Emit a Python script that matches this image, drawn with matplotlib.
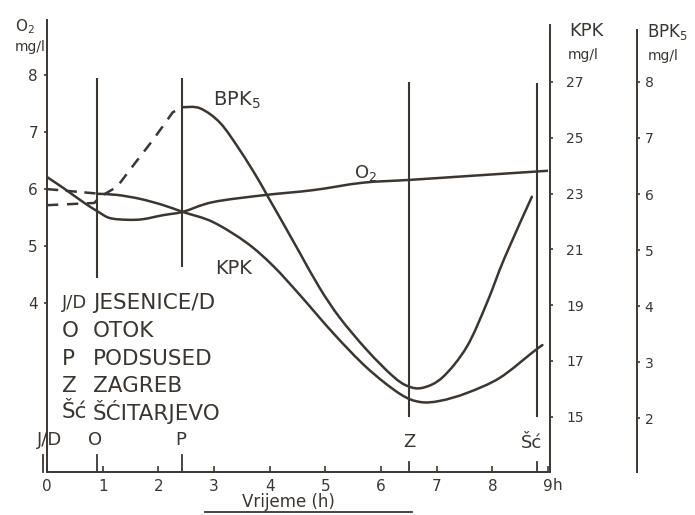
import matplotlib
matplotlib.use('Agg')
import matplotlib.pyplot as plt
from matplotlib.lines import Line2D
from matplotlib.path import Path
from matplotlib.patches import PathPatch
import matplotlib.transforms as mtransforms

# ---------------- data ----------------
hours = list(range(10))
o2_ticks = [4, 5, 6, 7, 8]
kpk_ticks = [15, 17, 19, 21, 23, 25, 27]
bpk_ticks = [2, 3, 4, 5, 6, 7, 8]

stations = ['J/D', 'O', 'P', 'Z', 'Šć']
station_t = [0.0, 0.9, 2.43, 6.5, 8.8]
legend_codes = ['J/D', 'O', 'P', 'Z', 'Šć']
legend_names = ['JESENICE/D', 'OTOK', 'PODSUSED', 'ZAGREB', 'ŠĆITARJEVO']

o2_t = [0.0, 0.29, 0.65, 0.92, 1.13, 1.44, 1.72, 2.08, 2.44, 2.98, 3.88, 4.78, 5.67, 6.52, 7.6, 9.0]
o2_v = [6.21, 6.02, 5.77, 5.60, 5.49, 5.46, 5.47, 5.54, 5.60, 5.77, 5.89, 5.98, 6.11, 6.16, 6.23, 6.32]

kpk_dash_t = [0.0, 0.9]
kpk_dash_v = [23.16, 23.0]
kpk_t = [0.92, 1.26, 1.67, 2.08, 2.44, 2.98, 3.59, 4.06, 4.54, 5.14, 5.75, 6.34, 6.70, 7.06, 7.54, 8.13, 8.73, 8.9]
kpk_v = [22.99, 22.95, 22.81, 22.59, 22.34, 21.98, 21.23, 20.41, 19.37, 18.00, 16.75, 15.82, 15.53, 15.57, 15.85, 16.39, 17.32, 17.57]

bpk_dash_t = [0.0, 0.85, 0.95, 1.26, 1.58, 1.90, 2.26, 2.44]
bpk_dash_v = [5.80, 5.84, 5.95, 6.13, 6.55, 6.96, 7.46, 7.55]
bpk_t = [2.44, 2.75, 3.11, 3.46, 3.77, 3.97, 4.24, 4.54, 4.90, 5.26, 5.75, 6.21, 6.48, 6.75, 7.11, 7.54, 7.90, 8.22, 8.71]
bpk_v = [7.55, 7.53, 7.27, 6.79, 6.30, 5.95, 5.48, 4.95, 4.32, 3.79, 3.21, 2.75, 2.57, 2.54, 2.73, 3.27, 4.05, 4.86, 5.95]

# ---------------- style ----------------
INK = '#3b3632'
plt.rcParams['font.family'] = ['DejaVu Sans']
W, H = 695, 515
fig = plt.figure(figsize=(W / 100, H / 100), dpi=100)
fig.patch.set_facecolor('white')

def fx(px):
    return px / W

def fy(py):
    return 1 - py / H

L, R, B, T = 47, 548, 472, 20
ax = fig.add_axes([fx(L), fy(B), (R - L) / W, (B - T) / H])
ax.set_xlim(0, 9)
ax.set_ylim(1.035, 8.965)
ax.patch.set_alpha(0)
for s in ['top', 'right']:
    ax.spines[s].set_visible(False)
for s in ['left', 'bottom']:
    ax.spines[s].set_color(INK)
    ax.spines[s].set_linewidth(1.4)
ax.set_xticks(hours)
ax.set_xticklabels([str(h) for h in hours])
ax.set_yticks(o2_ticks)
ax.set_yticklabels([str(v) for v in o2_ticks])
ax.tick_params(axis='x', direction='in', length=4, width=1.2, colors=INK,
               labelsize=11, pad=5)
ax.tick_params(axis='y', direction='out', length=2.5, width=1.2, colors=INK,
               labelsize=11, pad=4)

# KPK axis
axk = ax.twinx()
axk.set_ylim(13.02, 29.22)
axk.patch.set_alpha(0)
for s in ['top', 'left', 'bottom']:
    axk.spines[s].set_visible(False)
axk.spines['right'].set_position(('axes', (550 - L) / (R - L)))
axk.spines['right'].set_bounds(13.02, 29.04)
axk.spines['right'].set_color(INK)
axk.spines['right'].set_linewidth(1.4)
axk.set_yticks(kpk_ticks)
axk.set_yticklabels([str(v) for v in kpk_ticks])
axk.tick_params(axis='y', direction='out', length=2.5, width=1.2, colors=INK,
                labelsize=10, pad=9)

# BPK5 axis
axb = ax.twinx()
axb.set_ylim(1.036, 9.107)
axb.patch.set_alpha(0)
for s in ['top', 'left', 'bottom']:
    axb.spines[s].set_visible(False)
axb.spines['right'].set_position(('axes', (637 - L) / (R - L)))
axb.spines['right'].set_bounds(1.036, 8.93)
axb.spines['right'].set_color(INK)
axb.spines['right'].set_linewidth(1.4)
axb.set_yticks(bpk_ticks)
axb.set_yticklabels([str(v) for v in bpk_ticks])
axb.tick_params(axis='y', direction='out', length=2.5, width=1.2, colors=INK,
                labelsize=10, pad=3)

# ---------------- station lines ----------------
trans = mtransforms.blended_transform_factory(ax.transData, ax.transAxes)
def af(py):
    return (B - py) / (B - T)

upper_spans = {'O': (78, 278), 'P': (78, 267), 'Z': (82, 417), 'Šć': (83, 417)}
tick_tops = {'J/D': 455, 'O': 455, 'P': 455, 'Z': 462, 'Šć': 462}
for name, t in zip(stations, station_t):
    if name in upper_spans:
        top, bot = upper_spans[name]
        ax.plot([t, t], [af(bot), af(top)], transform=trans, color=INK,
                lw=1.5, solid_capstyle='butt', clip_on=False)
    tx = t - 0.07 if name == 'J/D' else t
    ax.plot([tx, tx], [0, af(tick_tops[name])], transform=trans, color=INK,
            lw=1.3, clip_on=False)

label_px = {'J/D': (50, 440), 'O': (95, 440), 'P': (181, 440), 'Z': (409, 442), 'Šć': (532, 443)}
for name in stations:
    x, y = label_px[name]
    fig.text(fx(x), fy(y), name, ha='center', va='center', fontsize=13, color=INK)

# ---------------- curves ----------------
def smooth_curve(axis, xs, ys, **kw):
    """Draw a smooth (Catmull-Rom as cubic Bezier) curve through the read points."""
    pts = list(zip(xs, ys))
    n = len(pts)
    verts = [pts[0]]
    codes = [Path.MOVETO]
    for i in range(n - 1):
        p0 = pts[i - 1] if i > 0 else pts[i]
        p1 = pts[i]
        p2 = pts[i + 1]
        p3 = pts[i + 2] if i + 2 < n else pts[i + 1]
        c1 = (p1[0] + (p2[0] - p0[0]) / 6, p1[1] + (p2[1] - p0[1]) / 6)
        c2 = (p2[0] - (p3[0] - p1[0]) / 6, p2[1] - (p3[1] - p1[1]) / 6)
        verts += [c1, c2, p2]
        codes += [Path.CURVE4] * 3
    patch = PathPatch(Path(verts, codes), fill=False, edgecolor=INK,
                      transform=axis.transData, capstyle='round',
                      joinstyle='round', **kw)
    axis.add_patch(patch)

smooth_curve(ax, o2_t, o2_v, lw=1.8)
axk.plot(kpk_dash_t, kpk_dash_v, color=INK, lw=1.8, dashes=(4.5, 3))
smooth_curve(axk, kpk_t, kpk_v, lw=1.8)
axb.plot(bpk_dash_t, bpk_dash_v, color=INK, lw=1.8, dashes=(4.5, 3.5))
smooth_curve(axb, bpk_t, bpk_v, lw=1.8)

# ---------------- texts ----------------
fig.text(fx(25), fy(27), 'O$_2$', ha='center', va='center', fontsize=11, color=INK)
fig.text(fx(30), fy(47), 'mg/l', ha='center', va='center', fontsize=10, color=INK)
fig.text(fx(586), fy(31), 'KPK', ha='center', va='center', fontsize=13, color=INK)
fig.text(fx(583), fy(55), 'mg/l', ha='center', va='center', fontsize=10, color=INK)
fig.text(fx(667), fy(32), 'BPK$_5$', ha='center', va='center', fontsize=12, color=INK)
fig.text(fx(663), fy(56), 'mg/l', ha='center', va='center', fontsize=10, color=INK)

fig.text(fx(237), fy(100), 'BPK$_5$', ha='center', va='center', fontsize=14, color=INK)
fig.text(fx(234), fy(269), 'KPK', ha='center', va='center', fontsize=14, color=INK)
fig.text(fx(366), fy(173), 'O$_2$', ha='center', va='center', fontsize=13, color=INK)

leg_y = [303, 331, 359, 386, 412]
for code, name, y in zip(legend_codes, legend_names, leg_y):
    csize = 13 if code == 'J/D' else 15.5
    fig.text(fx(62), fy(y), code, ha='left', va='center', fontsize=csize, color=INK)
    fig.text(fx(93), fy(y), name, ha='left', va='center', fontsize=15.5, color=INK)

fig.text(fx(557), fy(485), 'h', ha='center', va='center', fontsize=11, color=INK)
fig.text(fx(288), fy(502), 'Vrijeme (h)', ha='center', va='center', fontsize=12, color=INK)
fig.add_artist(Line2D([fx(205), fx(412)], [fy(512), fy(512)], color=INK, lw=1.3))

fig.savefig('out.png', dpi=100, facecolor='white')
